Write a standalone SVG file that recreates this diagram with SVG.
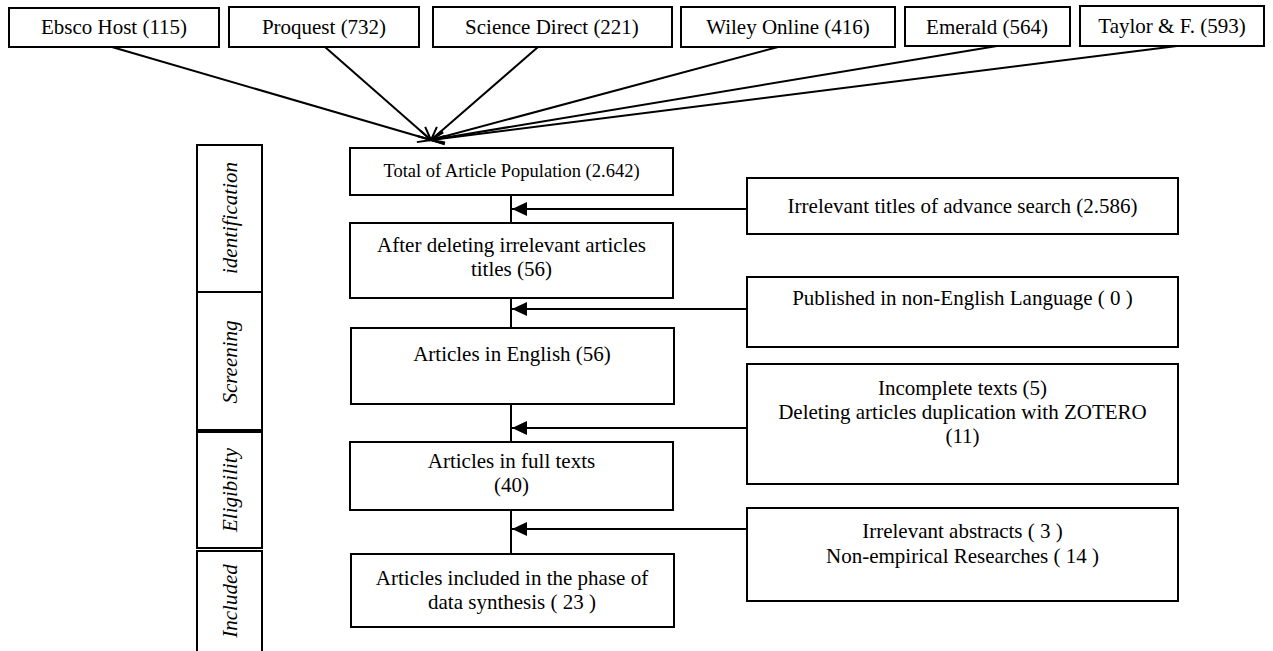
<svg xmlns="http://www.w3.org/2000/svg" width="1273" height="651" viewBox="0 0 1273 651">
<defs>
<style>
.box{fill:#fff;stroke:#000;stroke-width:2}
.t{font-family:"Liberation Serif","Times New Roman",serif;font-size:21px;fill:#000;text-anchor:middle}
.s{font-size:18.5px}
.i{font-style:italic}
.ln{stroke:#000;stroke-width:2;fill:none}
</style>
<marker id="open" markerUnits="userSpaceOnUse" markerWidth="30" markerHeight="30" refX="0" refY="0" viewBox="-15 -15 30 30" orient="auto" overflow="visible">
<path d="M-13,-6 L0,0 L-13,6" fill="none" stroke="#000" stroke-width="2"/>
</marker>
<marker id="solid" markerUnits="userSpaceOnUse" markerWidth="30" markerHeight="30" refX="0" refY="0" viewBox="-15 -15 30 30" orient="auto" overflow="visible">
<path d="M0,0 L-15,-7 L-15,7 Z" fill="#000"/>
</marker>
</defs>
<rect width="1273" height="651" fill="#fff"/>

<g id="src-ebsco"><rect class="box" x="9" y="8" width="210" height="39"/><text class="t" x="114" y="34">Ebsco Host (115)</text></g>
<g id="src-proquest"><rect class="box" x="229" y="7" width="190" height="40"/><text class="t" x="324" y="34">Proquest (732)</text></g>
<g id="src-sciencedirect"><rect class="box" x="433" y="7" width="239" height="40"/><text class="t" x="552" y="34">Science Direct (221)</text></g>
<g id="src-wiley"><rect class="box" x="681" y="7" width="214" height="40"/><text class="t" x="788" y="34">Wiley Online (416)</text></g>
<g id="src-emerald"><rect class="box" x="905" y="7" width="165" height="39"/><text class="t" x="987" y="34">Emerald (564)</text></g>
<g id="src-taylor"><rect class="box" x="1080" y="6" width="184" height="40"/><text class="t" x="1172" y="33">Taylor &amp; F. (593)</text></g>

<g id="phase-identification"><rect class="box" x="197" y="145" width="65" height="147"/><text class="t i" transform="translate(237,218) rotate(-90)">identification</text></g>
<g id="phase-screening"><rect class="box" x="197" y="292" width="65" height="138"/><text class="t i" transform="translate(237,362) rotate(-90)">Screening</text></g>
<g id="phase-eligibility"><rect class="box" x="197" y="432" width="65" height="116"/><text class="t i" transform="translate(237,490) rotate(-90)">Eligibility</text></g>
<g id="phase-included"><rect class="box" x="197" y="551" width="65" height="102"/><text class="t i" transform="translate(237,601) rotate(-90)">Included</text></g>

<g id="n-total"><rect class="box" x="350" y="148" width="323" height="47"/><text class="t s" x="511.5" y="177">Total of Article Population (2.642)</text></g>
<g id="n-after"><rect class="box" x="350" y="223" width="323" height="75"/><text class="t" x="511.5" y="252">After deleting irrelevant articles</text><text class="t" x="511.5" y="276">titles (56)</text></g>
<g id="n-english"><rect class="box" x="351" y="328" width="323" height="76"/><text class="t" x="512" y="361">Articles in English (56)</text></g>
<g id="n-fulltext"><rect class="box" x="350" y="442" width="323" height="68"/><text class="t" x="511.5" y="468">Articles in full texts</text><text class="t" x="511.5" y="492">(40)</text></g>
<g id="n-included"><rect class="box" x="351" y="554" width="323" height="73"/><text class="t" x="512" y="585">Articles included in the phase of</text><text class="t" x="512" y="609">data synthesis ( 23 )</text></g>

<g id="x-irrelevant-titles"><rect class="box" x="747" y="178" width="431" height="56"/><text class="t" x="962.5" y="213">Irrelevant titles of advance search (2.586)</text></g>
<g id="x-language"><rect class="box" x="747" y="277" width="431" height="70"/><text class="t" x="962.5" y="305">Published in non-English Language ( 0 )</text></g>
<g id="x-incomplete"><rect class="box" x="747" y="364" width="431" height="120"/><text class="t" x="962.5" y="395">Incomplete texts (5)</text><text class="t" x="962.5" y="419">Deleting articles duplication with ZOTERO</text><text class="t" x="962.5" y="443">(11)</text></g>
<g id="x-abstracts"><rect class="box" x="747" y="508" width="431" height="93"/><text class="t" x="962.5" y="538">Irrelevant abstracts ( 3 )</text><text class="t" x="962.5" y="563">Non-empirical Researches ( 14 )</text></g>

<g id="connectors">
<line class="ln" x1="112" y1="47" x2="431" y2="140" marker-end="url(#open)"/>
<line class="ln" x1="325" y1="47" x2="431" y2="140" marker-end="url(#open)"/>
<line class="ln" x1="538" y1="47" x2="431" y2="140" marker-end="url(#open)"/>
<line class="ln" x1="778" y1="47" x2="431" y2="140" marker-end="url(#open)"/>
<line class="ln" x1="997" y1="46" x2="431" y2="140" marker-end="url(#open)"/>
<line class="ln" x1="1177" y1="46" x2="431" y2="140" marker-end="url(#open)"/>
<line class="ln" x1="511" y1="195" x2="511" y2="223"/>
<line class="ln" x1="511" y1="298" x2="511" y2="328"/>
<line class="ln" x1="511" y1="404" x2="511" y2="442"/>
<line class="ln" x1="511" y1="510" x2="511" y2="554"/>
<line class="ln" x1="747" y1="209" x2="512" y2="209" marker-end="url(#solid)"/>
<line class="ln" x1="747" y1="309" x2="512" y2="309" marker-end="url(#solid)"/>
<line class="ln" x1="747" y1="428" x2="512" y2="428" marker-end="url(#solid)"/>
<line class="ln" x1="747" y1="529" x2="512" y2="529" marker-end="url(#solid)"/>
</g>
</svg>
